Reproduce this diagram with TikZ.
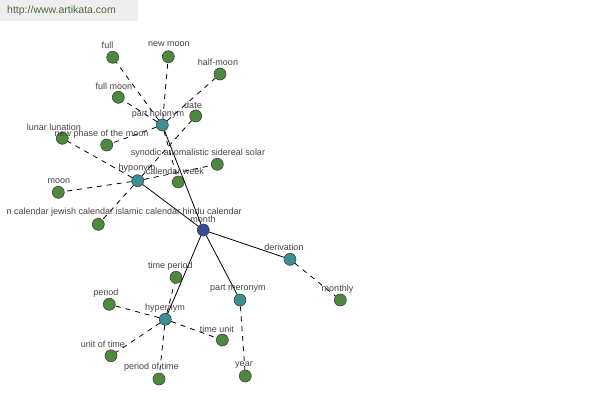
\documentclass[tikz,border=0pt]{standalone}
\usepackage{fontspec}
\setmainfont{Liberation Sans}
\definecolor{leafgreen}{HTML}{4E8A3E}
\definecolor{relteal}{HTML}{3D8F94}
\definecolor{hubblue}{HTML}{3C4A9C}
\definecolor{labelgray}{HTML}{444444}
\definecolor{urlgreen}{HTML}{4B6B3B}
\definecolor{urlbg}{HTML}{EEEEEE}
\begin{document}
\begin{tikzpicture}[x=1pt,y=-1pt,
  dot/.style={circle,draw=black!75,minimum size=12pt,inner sep=0pt,line width=0.6pt},
  leaf/.style={dot,fill=leafgreen},
  rel/.style={dot,fill=relteal},
  hub/.style={dot,fill=hubblue},
  lbl/.style={font=\fontsize{9}{10}\selectfont,text=labelgray,inner sep=0pt},
  strong/.style={draw=black,line width=0.8pt},
  weak/.style={draw=black,line width=0.8pt,dash pattern=on 5pt off 5pt}]
\useasboundingbox[fill=white] (0,0) rectangle (600,400);
% url banner
\fill[urlbg] (0,0) rectangle (138,21);
\node[font=\fontsize{10.5}{12}\selectfont,text=urlgreen,inner sep=0pt] (url) at (61.5,11) {http://www.artikata.com};

% nodes
\node[hub] (month) at (203.3,230) {};
\node[rel] (holonym) at (162.3,125) {};
\node[rel] (hyponym) at (137.7,180.7) {};
\node[rel] (hypernym) at (165.3,319.3) {};
\node[rel] (meronym) at (240,300) {};
\node[rel] (derivation) at (290,259.3) {};

\node[leaf] (full) at (112.7,57.3) {};
\node[leaf] (newmoon) at (168.3,56.7) {};
\node[leaf] (halfmoon) at (220,74) {};
\node[leaf] (fullmoon) at (118.3,97.3) {};
\node[leaf] (date) at (195.7,116) {};
\node[leaf] (lunation) at (62.3,138.3) {};
\node[leaf] (newphase) at (106.7,145) {};
\node[leaf] (synodic) at (217.3,164.3) {};
\node[leaf] (week) at (178.3,182) {};
\node[leaf] (moon) at (58.3,192.3) {};
\node[leaf] (calendars) at (98.3,224.3) {};
\node[leaf] (monthly) at (340.3,300) {};
\node[leaf] (timeperiod) at (176,277.3) {};
\node[leaf] (period) at (109.3,304.3) {};
\node[leaf] (timeunit) at (222.3,340) {};
\node[leaf] (unitoftime) at (111,355.7) {};
\node[leaf] (periodoftime) at (159,379) {};
\node[leaf] (year) at (245.3,376) {};

% connectors
\begin{scope}[on background layer/.style={}]
\end{scope}
\draw[strong] (month) -- (holonym);
\draw[strong] (month) -- (hyponym);
\draw[strong] (month) -- (hypernym);
\draw[strong] (month) -- (meronym);
\draw[strong] (month) -- (derivation);

\draw[weak] (holonym) -- (full);
\draw[weak] (holonym) -- (newmoon);
\draw[weak] (holonym) -- (halfmoon);
\draw[weak] (holonym) -- (fullmoon);
\draw[weak] (holonym) -- (newphase);
\draw[weak] (holonym) -- (week);

\draw[weak] (hyponym) -- (lunation);
\draw[weak] (hyponym) -- (date);
\draw[weak] (hyponym) -- (synodic);
\draw[weak] (hyponym) -- (moon);
\draw[weak] (hyponym) -- (calendars);

\draw[weak] (hypernym) -- (timeperiod);
\draw[weak] (hypernym) -- (period);
\draw[weak] (hypernym) -- (timeunit);
\draw[weak] (hypernym) -- (unitoftime);
\draw[weak] (hypernym) -- (periodoftime);

\draw[weak] (meronym) -- (year);
\draw[weak] (derivation) -- (monthly);

% labels
\node[lbl] (l-full) at (107.5,45) {full};
\node[lbl] (l-newmoon) at (169,44) {new moon};
\node[lbl] (l-halfmoon) at (218,62) {half-moon};
\node[lbl] (l-fullmoon) at (114,86) {full moon};
\node[lbl] (l-date) at (193,105) {date};
\node[lbl] (l-holonym) at (158,114) {part holonym};
\node[lbl] (l-lunation) at (54,127) {lunar lunation};
\node[lbl] (l-newphase) at (101.5,134) {new phase of the moon};
\node[lbl] (l-synodic) at (198,153) {synodic anomalistic sidereal solar};
\node[lbl] (l-hyponym) at (137,168) {hyponym};
\node[lbl] (l-week) at (175,171) {calendar week};
\node[lbl] (l-moon) at (59,181) {moon};
\node[lbl,anchor=east] (l-calendars) at (242,212) {n calendar jewish calendar islamic calendar hindu calendar};
\node[lbl] (l-month) at (203,219) {month};
\node[lbl] (l-derivation) at (284,247) {derivation};
\node[lbl] (l-timeperiod) at (170.5,266) {time period};
\node[lbl] (l-period) at (106,293) {period};
\node[lbl] (l-meronym) at (238,289) {part meronym};
\node[lbl] (l-monthly) at (337.5,289) {monthly};
\node[lbl] (l-hypernym) at (165,308) {hypernym};
\node[lbl] (l-timeunit) at (217,329) {time unit};
\node[lbl] (l-unitoftime) at (103,344) {unit of time};
\node[lbl] (l-periodoftime) at (151.5,367) {period of time};
\node[lbl] (l-year) at (244,365) {year};
\end{tikzpicture}
\end{document}
